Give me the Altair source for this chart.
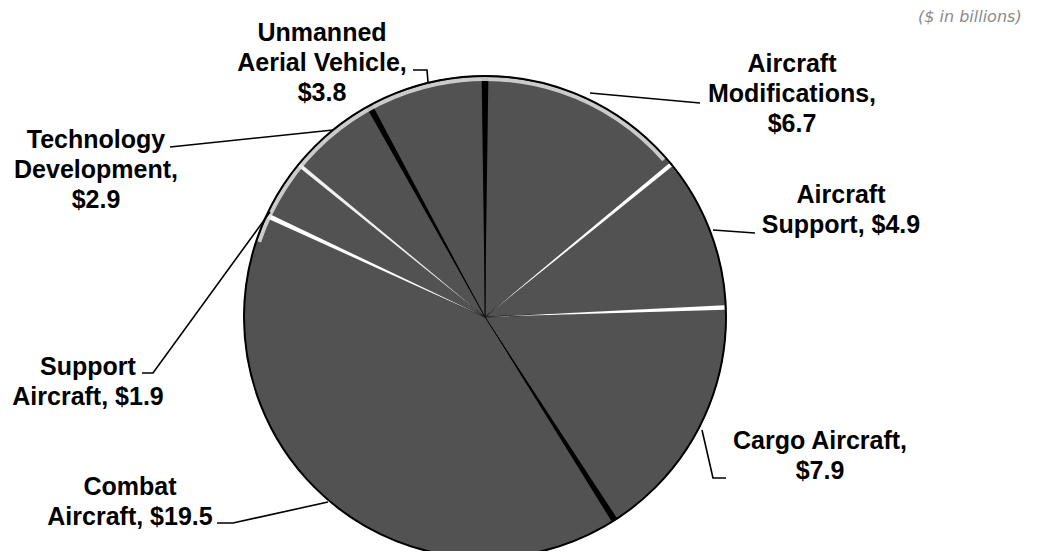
import math
import altair as alt
import pandas as pd

# ---- data ----
categories = ["Aircraft Modifications", "Aircraft Support", "Cargo Aircraft",
              "Combat Aircraft", "Support Aircraft", "Technology Development",
              "Unmanned Aerial Vehicle"]
values = [6.7, 4.9, 7.9, 19.5, 1.9, 2.9, 3.8]
label_lines = [
    ["Aircraft", "Modifications,", "$6.7"],
    ["Aircraft", "Support, $4.9"],
    ["Cargo Aircraft,", "$7.9"],
    ["Combat", "Aircraft, $19.5"],
    ["Support", "Aircraft, $1.9"],
    ["Technology", "Development,", "$2.9"],
    ["Unmanned", "Aerial Vehicle,", "$3.8"],
]
unit_note = "($ in billions)"

# ---- layout / style (kept separate from the data) ----
W, H = 1033, 543
CX, CY, R = 477, 309, 241          # pie centre / radius in chart pixels
label_anchor = [(792, 64), (841, 195), (820, 441), (130, 487),
                (88, 367), (96, 140), (322, 33)]   # screen px, first line
line_gap = 30
leaders = [
    [(700, 103), (590, 93)],
    [(755, 233), (713, 230)],
    [(726, 478), (713, 478), (702, 430)],
    [(217, 523), (233, 523), (328, 502)],
    [(142, 373), (153, 373), (270, 212)],
    [(170, 147), (333, 130)],
    [(413, 70), (427, 70), (428, 82)],
]
edge_colour = ["#000000", "#ffffff", "#ffffff", "#000000", "#ffffff", "#f0f0f0", "#000000"]
edge_half = [0.014, 0.009, 0.009, 0.013, 0.010, 0.008, 0.013]
FONT = "Liberation Sans"

# ---- tables ----
pie_df = pd.DataFrame({"category": categories, "value": values,
                       "idx": list(range(len(values))), "edge": edge_colour,
                       "half": edge_half})

txt_rows = []
for i, lines in enumerate(label_lines):
    ax, ay = label_anchor[i]
    for j, t in enumerate(lines):
        txt_rows.append({"text": t, "x": ax, "y": ay + j * line_gap})
txt_df = pd.DataFrame(txt_rows)

lead_rows = []
for i, pts in enumerate(leaders):
    for k, (px, py) in enumerate(pts):
        lead_rows.append({"id": i, "k": k, "x": px, "y": py})
lead_df = pd.DataFrame(lead_rows)

xs = alt.Scale(domain=[8, 8 + W], nice=False, zero=False)
ys = alt.Scale(domain=[8 + H, 8], nice=False, zero=False)

base_pie = alt.Chart(pie_df)

slices = base_pie.mark_arc(stroke="#111111", strokeWidth=1).encode(
    theta=alt.Theta("value:Q", stack=True),
    order=alt.Order("idx:Q"),
    x=alt.value(CX), y=alt.value(CY), radius=alt.value(R),
    color=alt.value("#525252"),
)

edges = base_pie.transform_joinaggregate(
    total="sum(value)"
).transform_window(
    cum="sum(value)", sort=[alt.SortField("idx")]
).transform_calculate(
    a0="(datum.cum - datum.value) / datum.total * 2 * PI - datum.half + 2 * PI",
    a1="(datum.cum - datum.value) / datum.total * 2 * PI + datum.half + 2 * PI",
).mark_arc().encode(
    theta=alt.Theta("a0:Q", scale=None),
    theta2="a1:Q",
    x=alt.value(CX), y=alt.value(CY), radius=alt.value(R - 1),
    color=alt.Color("edge:N", scale=None),
)

one = alt.Chart(pd.DataFrame({"k": [0]}))
rim_light = one.mark_arc(theta=2 * math.pi - 1.25, theta2=2 * math.pi + 0.85,
                         radius=R - 1, radius2=R - 5,
                         fill="#e0e0e0", fillOpacity=0.85).encode(
    x=alt.value(CX), y=alt.value(CY))
outline = one.mark_arc(theta=0, theta2=2 * math.pi, radius=R, fillOpacity=0,
                       stroke="#000000", strokeWidth=2).encode(
    x=alt.value(CX), y=alt.value(CY))

lines = alt.Chart(lead_df).mark_line(color="#000000", strokeWidth=1.6).encode(
    x=alt.X("x:Q", scale=xs, axis=None),
    y=alt.Y("y:Q", scale=ys, axis=None),
    detail="id:N",
    order="k:Q",
)

labels = alt.Chart(txt_df).mark_text(font=FONT, fontSize=25, fontWeight="bold",
                                     color="#000000", align="center",
                                     baseline="middle").encode(
    x=alt.X("x:Q", scale=xs, axis=None),
    y=alt.Y("y:Q", scale=ys, axis=None),
    text="text:N",
)

note = alt.Chart(pd.DataFrame({"text": [unit_note], "x": [918], "y": [17]})).mark_text(
    font="DejaVu Sans", fontSize=16, fontStyle="italic", color="#8a8a8a",
    align="left", baseline="middle").encode(
    x=alt.X("x:Q", scale=xs, axis=None),
    y=alt.Y("y:Q", scale=ys, axis=None),
    text="text:N",
)

chart = alt.layer(slices, edges, rim_light, outline, lines, labels, note).properties(
    width=W, height=H,
    autosize=alt.AutoSizeParams(type="none"),
    padding=0,
    background="#ffffff",
).configure_view(stroke=None)

chart.save("out.html", embed_options={"renderer": "svg", "actions": False})
